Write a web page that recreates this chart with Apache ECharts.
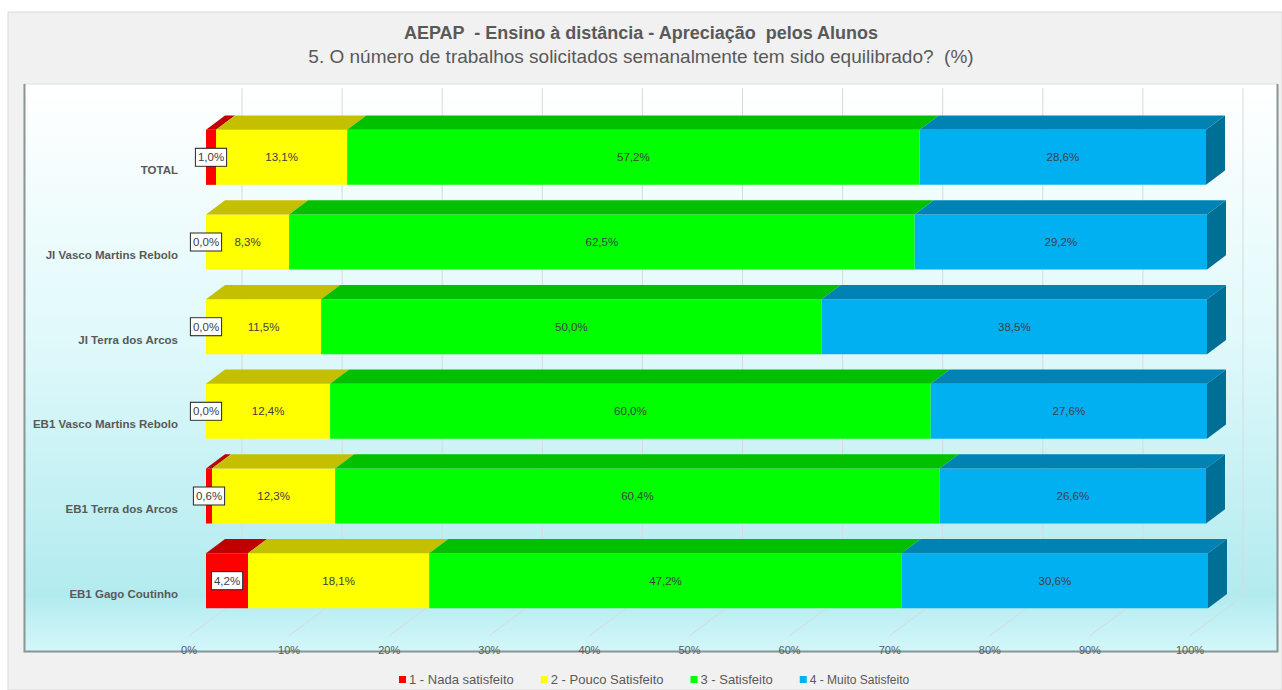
<!DOCTYPE html>
<html>
<head>
<meta charset="utf-8">
<script src="https://cdn.jsdelivr.net/npm/echarts@6/dist/echarts.min.js"></script>
<style>
    html, body { margin: 0; padding: 0; background: #fff; }
    #chart-box { width: 1282px; height: 690px; }
</style>
</head>
<body>
<div id="chart-box"></div>
<script>
    // dados (%)
    let categories = ['TOTAL', 'JI Vasco Martins Rebolo', 'JI Terra dos Arcos', 'EB1 Vasco Martins Rebolo', 'EB1 Terra dos Arcos', 'EB1 Gago Coutinho'];
    let nadaSatisfeito = [1.0, 0.0, 0.0, 0.0, 0.6, 4.2];
    let poucoSatisfeito = [13.1, 8.3, 11.5, 12.4, 12.3, 18.1];
    let satisfeito = [57.2, 62.5, 50.0, 60.0, 60.4, 47.2];
    let muitoSatisfeito = [28.6, 29.2, 38.5, 27.6, 26.6, 30.6];
    let seriesNames = ['1 - Nada satisfeito', '2 - Pouco Satisfeito', '3 - Satisfeito', '4 - Muito Satisfeito'];
    let xTicks = [0, 10, 20, 30, 40, 50, 60, 70, 80, 90, 100];

    let font = 'Liberation Sans, Arial, sans-serif';
    let frontColors = ['#ff0000', '#ffff00', '#00ff00', '#00b0f0'];
    let topColors = ['#c00000', '#c4c000', '#00c000', '#0083b4'];
    let sideColor = '#006f96';

    // perspectiva 3D (px)
    let depth = 19, wallDepth = 36, slope = 0.75;

    function fmt(v) {
        return v.toFixed(1).replace('.', ',') + '%';
    }

    let allSeries = [nadaSatisfeito, poucoSatisfeito, satisfeito, muitoSatisfeito];
    let starts = categories.map(function () { return 0; });
    let stacked = allSeries.map(function (values) {
        return values.map(function (v, i) {
            let item = [i, starts[i], v];
            starts[i] += v;
            return item;
        });
    });

    function makeRender(sIdx) {
        return function (params, api) {
            let cat = api.value(0), start = api.value(1), val = api.value(2);
            let p0 = api.coord([start, cat]);
            let p1 = api.coord([start + val, cat]);
            let h = api.size([0, 1])[1] * 0.65;
            let x0 = p0[0], x1 = p1[0], yc = p0[1], yt = yc - h / 2;
            let dx = depth, dy = -depth * slope;
            let children = [];
            if (val > 0) {
                children.push({
                    type: 'rect',
                    shape: {x: x0, y: yt, width: x1 - x0, height: h},
                    style: {fill: frontColors[sIdx]}
                });
                children.push({
                    type: 'polygon',
                    shape: {points: [[x0, yt], [x1, yt], [x1 + dx, yt + dy], [x0 + dx, yt + dy]]},
                    style: {fill: topColors[sIdx]}
                });
                if (sIdx === allSeries.length - 1) {
                    children.push({
                        type: 'polygon',
                        shape: {points: [[x1, yt], [x1 + dx, yt + dy], [x1 + dx, yt + h + dy], [x1, yt + h]]},
                        style: {fill: sideColor}
                    });
                }
            }
            let txt = {
                text: fmt(val),
                x: (x0 + x1) / 2,
                y: yc,
                align: 'center',
                verticalAlign: 'middle',
                fill: '#404040',
                fontSize: 11.5,
                fontFamily: font
            };
            if (sIdx === 0) {
                txt.backgroundColor = '#ffffff';
                txt.borderColor = '#262626';
                txt.borderWidth = 1;
                txt.padding = [3, 2, 2, 2];
            }
            children.push({type: 'text', style: txt, z2: 10});
            return {type: 'group', children: children};
        };
    }

    function renderGrid(params, api) {
        let p = api.coord([api.value(0), 0]);
        let cs = params.coordSys;
        let bottom = cs.y + cs.height;
        let wx = p[0] + wallDepth, wy = bottom - wallDepth * slope;
        let fx = p[0] - 17, fy = bottom + 17 * slope;
        return {
            type: 'polyline',
            shape: {points: [[wx, 88], [wx, wy], [fx, fy]]},
            style: {stroke: '#d9d9d9', lineWidth: 1, fill: null}
        };
    }

    let series = [{
        type: 'custom',
        name: 'grade',
        xAxisIndex: 0,
        yAxisIndex: 0,
        silent: true,
        z: 1,
        encode: {x: 0, y: 1},
        data: xTicks.map(function (v) { return [v, 0]; }),
        renderItem: renderGrid
    }];
    stacked.forEach(function (data, s) {
        series.push({
            type: 'custom',
            name: seriesNames[s],
            xAxisIndex: 0,
            yAxisIndex: 0,
            z: 3,
            itemStyle: {color: frontColors[s]},
            encode: {x: 1, y: 0},
            data: data,
            renderItem: makeRender(s)
        });
    });

    let option = {
        animation: false,
        textStyle: {fontFamily: font},
        title: {
            text: 'AEPAP  - Ensino à distância - Apreciação  pelos Alunos',
            subtext: '5. O número de trabalhos solicitados semanalmente tem sido equilibrado?  (%)',
            left: 'center',
            top: 19,
            itemGap: 5,
            textStyle: {fontSize: 18, fontWeight: 'bold', color: '#595959', fontFamily: font},
            subtextStyle: {fontSize: 19, color: '#595959', fontFamily: font}
        },
        legend: {
            data: seriesNames.map(function (n, i) {
                return i === 3 ? {name: n, textStyle: {fontSize: 12}} : {name: n};
            }),
            left: 394,
            top: 668,
            icon: 'rect',
            itemWidth: 7,
            itemHeight: 7,
            itemGap: 27,
            selectedMode: false,
            textStyle: {fontSize: 13, color: '#595959', fontFamily: font, padding: [0, 0, 0, -2]}
        },
        graphic: [
            {type: 'rect', z: -10, shape: {x: 8, y: 12, width: 1274, height: 678},
                style: {fill: '#f1f1f1', stroke: '#d9d9d9', lineWidth: 1}},
            {type: 'rect', z: -9, shape: {x: 24, y: 84, width: 1254, height: 568},
                style: {
                    fill: new echarts.graphic.LinearGradient(0, 0, 0, 1, [
                        {offset: 0, color: '#ffffff'},
                        {offset: 0.45, color: '#e0f9fb'},
                        {offset: 0.9, color: '#b2ebef'},
                        {offset: 1, color: '#d4f7fa'}
                    ]),
                    stroke: '#dfe3e3', lineWidth: 1
                }},
            {type: 'polyline', z: -8, shape: {points: [[24.5, 84], [24.5, 651.5], [1277.5, 651.5], [1277.5, 84]]},
                style: {stroke: '#8a9696', lineWidth: 2, fill: null}}
        ],
        grid: [
            {left: 206, width: 1001, top: 115, height: 508},
            {left: 189, width: 1001, top: 128, height: 508}
        ],
        xAxis: [
            {type: 'value', gridIndex: 0, min: 0, max: 100, interval: 10, show: false},
            {
                type: 'value', gridIndex: 1, min: 0, max: 100, interval: 10,
                axisLine: {show: false}, axisTick: {show: false}, splitLine: {show: false},
                axisLabel: {formatter: '{value}%', margin: 8, fontSize: 11, color: '#595959', fontFamily: font}
            }
        ],
        yAxis: [
            {type: 'category', gridIndex: 0, data: categories, inverse: true, show: false},
            {
                type: 'category', gridIndex: 1, data: categories, inverse: true,
                axisLine: {show: false}, axisTick: {show: false}, splitLine: {show: false},
                axisLabel: {margin: 11, fontSize: 11.5, fontWeight: 'bold', color: '#595959', fontFamily: font}
            }
        ],
        series: series
    };

    let chart = echarts.init(document.getElementById('chart-box'), null, {renderer: 'svg'});
    chart.setOption(option);

    window.addEventListener('resize', function () {
        chart.resize();
    });
</script>
</body>
</html>
